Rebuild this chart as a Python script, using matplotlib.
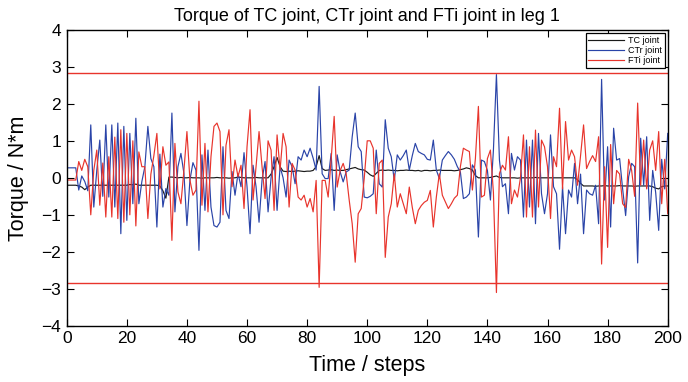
import matplotlib
matplotlib.use("Agg")
import matplotlib.pyplot as plt
import numpy as np

plt.rcParams['font.family'] = ['Liberation Sans', 'DejaVu Sans']

title = "Torque of TC joint, CTr joint and FTi joint in leg 1"
xlabel = "Time / steps"
ylabel = "Torque / N*m"
series_names = ["TC joint", "CTr joint", "FTi joint"]
limit_value = 2.83

steps = list(range(0, 201))

tc_joint = [
    -0.20, -0.20, -0.20, -0.20, -0.22, -0.25, -0.32, -0.25, -0.20, -0.20,
    -0.20, -0.20, -0.20, -0.20, -0.20, -0.20, -0.20, -0.20, -0.20, -0.20,
    -0.20, -0.18, -0.19, -0.17, -0.20, -0.20, -0.20, -0.20, -0.20, -0.20,
    -0.20, -0.22, -0.35, -0.55, 0.02, 0.02, 0.01, 0.00, 0.01, 0.00,
    0.00, 0.01, 0.00, 0.00, 0.00, -0.01, 0.00, 0.00, 0.00, 0.00,
    0.01, 0.00, 0.00, 0.00, -0.01, 0.00, 0.00, 0.02, 0.01, 0.00,
    0.00, 0.00, 0.00, 0.01, 0.00, 0.00, 0.00, 0.00, 0.10, 0.30,
    0.55, 0.30, 0.18, 0.17, 0.18, 0.17, 0.18, 0.19, 0.18, 0.17,
    0.18, 0.18, 0.20, 0.30, 0.60, 0.25, 0.20, 0.21, 0.22, 0.20,
    0.21, 0.20, 0.20, 0.22, 0.24, 0.26, 0.28, 0.24, 0.22, 0.21,
    0.15, 0.08, 0.04, 0.12, 0.20, 0.21, 0.20, 0.21, 0.20, 0.20,
    0.19, 0.20, 0.20, 0.21, 0.20, 0.20, 0.19, 0.20, 0.18, 0.20,
    0.20, 0.19, 0.20, 0.20, 0.21, 0.20, 0.20, 0.20, 0.20, 0.19,
    0.20, 0.22, 0.24, 0.27, 0.25, 0.21, 0.06, 0.00, 0.00, 0.00,
    0.00, 0.01, 0.03, 0.05, 0.01, 0.00, 0.00, 0.00, 0.00, 0.00,
    -0.01, 0.00, 0.00, 0.00, 0.00, 0.00, 0.01, 0.00, 0.00, 0.00,
    0.00, 0.00, 0.00, 0.00, 0.00, 0.00, 0.00, 0.00, 0.00, 0.00,
    -0.05, -0.15, -0.22, -0.22, -0.22, -0.22, -0.23, -0.22, -0.22, -0.21,
    -0.22, -0.22, -0.22, -0.22, -0.21, -0.22, -0.22, -0.22, -0.22, -0.23,
    -0.22, -0.22, -0.22, -0.22, -0.22, -0.24, -0.28, -0.30, -0.24, -0.22,
    -0.22,
]

ctr_joint = [
    0.27, 0.27, 0.27, 0.27, -0.33, 0.05, -0.10, -0.35, 1.43, -0.79,
    0.20, 1.02, -0.50, 1.43, -0.52, 1.43, -0.79, 1.48, -1.51, 1.39,
    -1.15, 1.20, -0.70, 1.61, -0.70, -0.10, 0.30, 1.39, 0.52, 0.30,
    -1.33, 0.64, -0.79, -0.29, -0.47, 1.75, -0.92, 0.30, 0.66, 0.12,
    -1.29, -0.06, 0.41, 0.21, -1.96, 0.62, -0.88, 0.75, -0.79, -1.29,
    -1.33, -1.20, 0.84, -0.88, -1.10, 0.17, -0.47, 0.12, -0.24, 0.68,
    -0.24, -1.51, 0.34, -0.24, -1.20, -0.06, 0.44, -0.92, 0.00, 0.57,
    -0.88, 0.30, 0.00, -0.52, 0.48, 0.30, -0.16, 0.57, 0.48, 0.75,
    0.57, 0.80, 0.53, 0.21, 2.47, 0.11, -0.02, -0.02, 0.66, -0.88,
    0.62, 0.16, -0.11, 0.16, 0.21, 1.11, 1.75, 0.84, 0.71, -0.52,
    -0.54, -0.50, -0.43, 0.75, -0.16, -0.25, 1.57, 0.80, 0.57, -0.07,
    0.62, 0.48, 0.60, 0.75, 0.21, 0.60, 0.93, 0.71, 0.66, 0.62,
    0.50, 0.48, 1.02, 0.21, -0.02, 0.48, 0.60, 0.71, 0.62, 0.50,
    0.30, 0.16, -0.56, -0.52, -0.43, 0.35, 0.21, -1.60, 0.48, 0.44,
    0.20, -0.60, 0.75, 2.79, 0.48, -0.24, -0.16, -0.97, 0.66, 0.21,
    0.57, 0.48, -1.06, 1.02, -0.79, 1.02, -1.24, 1.20, -0.43, -0.97,
    -0.43, 1.16, -0.24, -0.43, -1.93, -0.24, -1.51, -0.33, -0.52, 0.39,
    -0.70, 0.10, -1.51, -0.33, -0.43, -0.47, -0.20, -1.24, 2.66, -0.60,
    0.84, -1.33, 1.34, 0.48, 0.52, -0.30, -1.02, 0.03, 0.39, 0.30,
    -2.30, 1.07, -0.20, 1.11, -1.15, 0.20, -0.40, -1.42, 0.50, -0.30,
    1.20,
]

fti_joint = [
    -0.06, -0.06, -0.06, -0.06, 0.44, 0.20, 0.50, 0.30, -1.00, 0.20,
    0.75, -0.74, 0.40, -1.06, 0.57, -1.06, 1.10, -1.10, 1.30, -1.20,
    1.20, -1.00, 1.00, -1.30, 0.70, 0.30, 0.30, -1.10, 0.10, 0.60,
    1.20, -0.30, 0.84, 0.34, 0.43, -1.69, 0.93, -0.38, -0.70, 0.20,
    1.25, -0.06, -0.47, -0.33, 2.07, -0.74, 0.93, -0.92, 0.57, 1.39,
    1.48, 1.25, -1.00, 0.88, 1.30, -0.24, 0.48, 0.03, 0.34, -0.83,
    0.84, 1.84, -0.60, 0.30, 1.25, 0.30, -0.56, 1.00, 0.75, -0.88,
    1.16, 0.21, 1.20, 0.84, -0.79, 0.39, 0.21, -0.52, -0.60, -0.47,
    -0.79, -0.56, -0.92, -0.07, -2.96, -0.07, -0.07, -0.52, 0.50, 1.66,
    -0.25, 0.20, 0.39, 0.11, -0.60, -1.24, -2.28, -0.97, -0.83, -0.02,
    1.00, 1.00, 0.80, -0.97, 0.39, 0.48, -2.15, -1.06, -0.70, 0.11,
    -0.79, -0.43, -0.70, -0.97, -0.25, -0.80, -1.24, -0.88, -0.75, -0.66,
    -0.61, -0.34, -1.33, -0.52, 0.11, -0.47, -0.65, -0.83, -0.70, -0.55,
    -0.47, 0.30, 0.80, 0.75, 0.71, -0.33, 0.52, 1.93, -0.52, -0.47,
    0.52, 0.75, -0.40, -3.10, 0.12, 0.34, 0.21, 1.11, -0.70, -0.33,
    -0.52, 0.00, 1.16, -1.06, 0.84, -1.06, 1.29, -0.79, 1.02, 0.84,
    0.30, -1.10, 0.57, 0.30, 1.88, -0.30, 1.52, 0.48, 0.75, 0.57,
    -0.20, 0.60, 1.43, 0.25, 0.44, 0.60, 0.44, 1.11, -2.33, 0.30,
    -1.88, 0.90, -0.70, 0.20, 0.10, -0.70, -0.80, 0.50, 0.20, -0.50,
    2.02, -0.20, 1.02, -0.30, 0.75, 1.00, 0.20, 1.25, -0.70, 0.50,
    -0.97,
]

fig = plt.figure(figsize=(6.88, 3.82), dpi=100)
ax = fig.add_axes([0.097, 0.147, 0.8735, 0.775])

c_black = "#1a1a1a"
c_blue = "#2a44a8"
c_red = "#e8342c"

ax.plot(steps, tc_joint, color=c_black, lw=0.85, label=series_names[0])
ax.plot(steps, ctr_joint, color=c_blue, lw=0.85, label=series_names[1])
ax.plot(steps, fti_joint, color=c_red, lw=0.85, label=series_names[2])
ax.axhline(limit_value, color=c_red, lw=1.0)
ax.axhline(-limit_value, color=c_red, lw=1.0)

ax.set_xlim(0, 200)
ax.set_ylim(-4, 4)
ax.set_xticks(np.arange(0, 201, 20))
ax.set_yticks(np.arange(-4, 5, 1))
ax.tick_params(direction='in', length=5, width=0.8, top=True, right=True,
               labelsize=12.5, pad=4)
for s in ax.spines.values():
    s.set_linewidth(1.0)

ax.set_title(title, fontsize=13, pad=6)
ax.set_xlabel(xlabel, fontsize=15.5, labelpad=6)
ax.set_ylabel(ylabel, fontsize=15.5, labelpad=9)

leg = ax.legend(loc='upper right', fontsize=6.5, frameon=True, fancybox=False,
                edgecolor='black', framealpha=1, handlelength=4.0,
                borderpad=0.3, labelspacing=0.15, handletextpad=0.4,
                borderaxespad=0.35)
leg.get_frame().set_linewidth(0.9)

fig.savefig("out.png", dpi=100)
